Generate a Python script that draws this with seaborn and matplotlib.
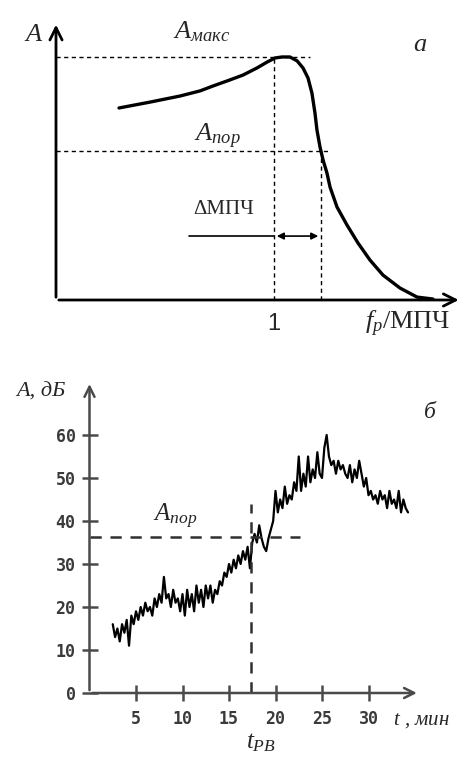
import numpy as np
import matplotlib
matplotlib.use("Agg")
import matplotlib.pyplot as plt
import seaborn as sns

# (a) амплитуда от относительной частоты
freq_rel = [0.289, 0.431, 0.569, 0.661, 0.720, 0.798, 0.858, 0.922, 0.968, 1.005,
            1.037, 1.073, 1.106, 1.133, 1.156, 1.174, 1.188, 1.197, 1.211, 1.225,
            1.243, 1.257, 1.289, 1.335, 1.385, 1.440, 1.500, 1.578, 1.656, 1.729]
amp_rel = [0.787, 0.811, 0.836, 0.857, 0.877, 0.902, 0.922, 0.951, 0.975, 0.992,
           0.996, 0.996, 0.980, 0.951, 0.910, 0.848, 0.766, 0.697, 0.627, 0.574,
           0.520, 0.463, 0.381, 0.307, 0.234, 0.164, 0.102, 0.049, 0.012, 0.004]
a_max = 0.996
a_thr = 0.61
f_max = 1.0
f_thr = 1.216
dmpch_y = 0.262

# (b) амплитуда АЭ во времени, дБ (шаг 0.25 мин, с 2.5 мин)
t_start, t_step = 2.5, 0.25
amp_db = [16, 13, 15, 12, 16, 14, 17, 11, 18, 16, 19,
          17, 20, 18, 21, 19, 20, 18, 22, 20, 23,
          21, 27, 22, 23, 20, 24, 21, 22, 19, 23,
          18, 24, 20, 23, 19, 25, 21, 24, 20, 25,
          22, 25, 21, 24, 23, 26, 25, 28, 27, 30,
          28, 31, 29, 32, 30, 33, 31, 34, 29, 35,
          37, 35, 39, 36, 34, 33, 36, 38, 40, 47,
          42, 45, 43, 48, 44, 46, 45, 49, 47, 55,
          47, 51, 48, 55, 49, 52, 50, 56, 51, 50,
          57, 60, 55, 53, 54, 51, 54, 52, 53, 51,
          50, 53, 49, 52, 50, 54, 51, 48, 50, 46,
          47, 45, 46, 44, 47, 45, 46, 43, 47, 44,
          45, 43, 47, 42, 45, 43, 42]
time_min = t_start + t_step * np.arange(len(amp_db))
x_ticks = [5, 10, 15, 20, 25, 30]
y_ticks = [0, 10, 20, 30, 40, 50, 60]
a_thr_db = 36.3
t_pb = 17.4

sns.set_theme(style="white")
plt.rcParams["font.family"] = ["Liberation Serif", "DejaVu Serif"]
plt.rcParams["mathtext.fontset"] = "custom"
plt.rcParams["mathtext.it"] = "Liberation Serif:italic"
plt.rcParams["mathtext.rm"] = "Liberation Serif"

fig = plt.figure(figsize=(4.70, 7.69), dpi=100)

# ---------- панель а ----------
ax1 = fig.add_axes([56 / 470, 1 - 300 / 769, 1.86 * 218 / 470, 1.14 * 244 / 769])
ax1.set_xlim(0, 1.86)
ax1.set_ylim(0, 1.14)
ax1.axis("off")

sns.lineplot(x=freq_rel, y=amp_rel, ax=ax1, color="black", lw=2.4, sort=False)

kw = dict(arrowstyle="->", lw=2, color="black", mutation_scale=22)
ax1.annotate("", xy=(1.86, 0), xytext=(0, 0), arrowprops=kw, annotation_clip=False)
ax1.annotate("", xy=(0, 1.14), xytext=(0, 0), arrowprops=kw, annotation_clip=False)

dash = dict(color="black", lw=1, ls=(0, (3, 2.5)))
ax1.plot([0, 1.165], [a_max, a_max], **dash)
ax1.plot([0, 1.26], [a_thr, a_thr], **dash)
ax1.plot([f_max, f_max], [0, a_max], **dash)
ax1.plot([f_thr, f_thr], [0, a_thr], **dash)

ax1.plot([0.61, f_max], [dmpch_y, dmpch_y], color="black", lw=1.2)
ax1.annotate("", xy=(f_max, dmpch_y), xytext=(f_thr, dmpch_y),
             arrowprops=dict(arrowstyle="<|-|>", lw=1.2, color="black", mutation_scale=10))

ax1.text(-0.105, 1.086, "A", style="italic", fontsize=19, ha="center", va="center")
ax1.text(0.67, 1.10, r"$A_{макс}$", fontsize=19, ha="center", va="center")
ax1.text(1.67, 1.045, "a", style="italic", fontsize=19, ha="center", va="center")
ax1.text(0.74, 0.67, r"$A_{пор}$", fontsize=19, ha="center", va="center")
ax1.text(0.77, 0.37, "ΔМПЧ", fontsize=15, ha="center", va="center")
ax1.text(f_max, -0.10, "1", family="Liberation Sans", fontsize=17, ha="center", va="center")
ax1.text(1.615, -0.10, r"$f_p$/МПЧ", fontsize=19, ha="center", va="center")

# ---------- панель б ----------
ax2 = fig.add_axes([89.5 / 470, 1 - 693 / 769, 35.5 * 9.3 / 470, 72.5 * 4.3 / 769])
ax2.set_xlim(0, 35.5)
ax2.set_ylim(0, 72.5)
for s in ax2.spines.values():
    s.set_visible(False)

sns.lineplot(x=time_min, y=amp_db, ax=ax2, color="black", lw=1.6)

gray = "#4a4a4a"
kw2 = dict(arrowstyle="->", lw=1.8, color=gray, mutation_scale=18)
ax2.annotate("", xy=(35.5, 0), xytext=(0, 0), arrowprops=kw2, annotation_clip=False)
ax2.annotate("", xy=(0, 72.5), xytext=(0, 0), arrowprops=kw2, annotation_clip=False)

ax2.set_xticks(x_ticks)
ax2.set_yticks(y_ticks)
ax2.tick_params(axis="both", direction="inout", length=12, width=1.8, color=gray,
                labelsize=12, labelcolor="#3a3a3a")
ax2.tick_params(axis="x", pad=6)
ax2.tick_params(axis="y", pad=4)
ax2.xaxis.set_ticks_position("bottom")
ax2.yaxis.set_ticks_position("left")
for lab in ax2.get_xticklabels() + ax2.get_yticklabels():
    lab.set_family("DejaVu Sans Mono")
    lab.set_fontweight("bold")
ax2.set_xlabel("")
ax2.set_ylabel("")

dash2 = dict(color="#303030", lw=1.8, ls=(0, (4.5, 3.5)))
ax2.plot([0, 22.6], [a_thr_db, a_thr_db], **dash2)
ax2.plot([t_pb, t_pb], [0, 44], **dash2)

ax2.text(-5.2, 70, "A, дБ", style="italic", fontsize=16, ha="center", va="center")
ax2.text(36.6, 65.3, "б", style="italic", fontsize=17, ha="center", va="center")
ax2.text(9.2, 41, r"$A_{пор}$", fontsize=18, ha="center", va="center")
ax2.text(32.6, -6.5, r"$t$ , мин", style="italic", fontsize=15, ha="left", va="center",
         clip_on=False)
ax2.text(t_pb + 1.0, -11.5, r"$t_{PB}$", fontsize=18, ha="center", va="center",
         clip_on=False)

fig.savefig("out.png", dpi=100, facecolor="white")
